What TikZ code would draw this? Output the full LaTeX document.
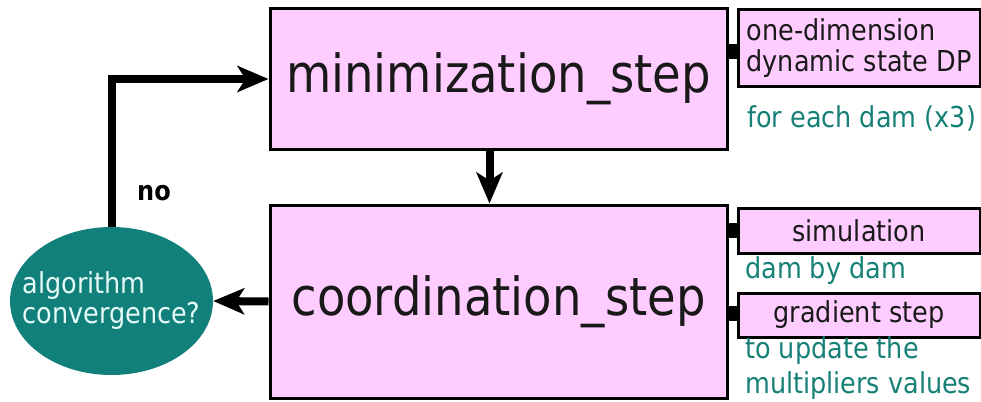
\documentclass[tikz,border=0pt]{standalone}
\usepackage{fontspec}
\usepackage{graphicx}
\setmainfont{DejaVu Sans}
\usetikzlibrary{arrows.meta,shapes.geometric}
\definecolor{boxpink}{RGB}{255,204,255}
\definecolor{tealfill}{RGB}{17,128,122}
\definecolor{tealtext}{RGB}{22,128,118}
\definecolor{elltext}{RGB}{230,250,248}
\newcommand{\tallt}[1]{\scalebox{1}[1.13]{#1}}
\tikzset{
  mainbox/.style={draw=black, fill=boxpink, line width=3pt, minimum width=457pt, inner sep=0pt,
    font=\fontsize{46.5}{54}\selectfont, text=black!90},
  sidebox/.style={draw=black, fill=boxpink, line width=3pt, minimum width=242pt, inner sep=0pt,
    font=\fontsize{25.5}{31}\selectfont, text=black!90},
  bigarrow/.style={line width=8pt, -{Stealth[length=31pt, width=26pt, inset=8pt]}},
  stub/.style={line width=15pt},
  note/.style={anchor=base west, inner sep=0pt, text=tealtext, font=\fontsize{25.5}{35}\selectfont},
}
\begin{document}
\begin{tikzpicture}[x=1pt, y=-1pt]
\useasboundingbox (0,0) rectangle (981,401);
% main boxes
\node[mainbox, minimum height=140pt] (min) at (498.5,79) {\tallt{minimization\_step}};
\node[mainbox, minimum height=193pt] (coord) at (498.5,301.5) {\tallt{coordination\_step}};
% side boxes
\node[sidebox, minimum height=77pt, align=left] (dp) at (859,48.5) {\tallt{one-dimension}\\\tallt{dynamic state DP}};
\node[sidebox, minimum height=45pt] (sim) at (859,230.5) {\tallt{simulation}};
\node[sidebox, minimum height=44pt] (grad) at (859,315) {\tallt{gradient step}};
% stubs
\draw[stub] ([yshift=-3pt]dp.west) -- ([yshift=-3pt]dp.west -| min.east);
\draw[stub] (sim.west) -- (sim.west -| coord.east);
\draw[stub] ([yshift=1.5pt]grad.west) -- ([yshift=1.5pt]grad.west -| coord.east);
% notes
\node[note] (n1) at (747,127) {\tallt{for each dam (x3)}};
\node[note] (n2) at (745,278) {\tallt{dam by dam}};
\node[note] (n3) at (745,358) {\tallt{to update the}};
\node[note] (n4) at (745,393) {\tallt{multipliers values}};
% ellipse
\node[ellipse, fill=tealfill, minimum width=203pt, minimum height=148pt, inner sep=0pt] (ell) at (111.5,301) {};
\node[align=left, inner sep=0pt, text=elltext, font=\fontsize{25.5}{30}\selectfont] (elltxt) at (ell.center) {\tallt{algorithm}\\\tallt{convergence?}};
% arrows
\draw[bigarrow] (ell.north) |- (min.west);
\draw[bigarrow] ([xshift=-9pt]min.south) -- ([xshift=-9pt]coord.north);
\draw[bigarrow] (coord.west) -- (ell.east);
\node[anchor=base west, inner sep=0pt, font=\fontsize{24}{28}\selectfont\bfseries] (no) at (137,200) {\tallt{no}};
\end{tikzpicture}
\end{document}
